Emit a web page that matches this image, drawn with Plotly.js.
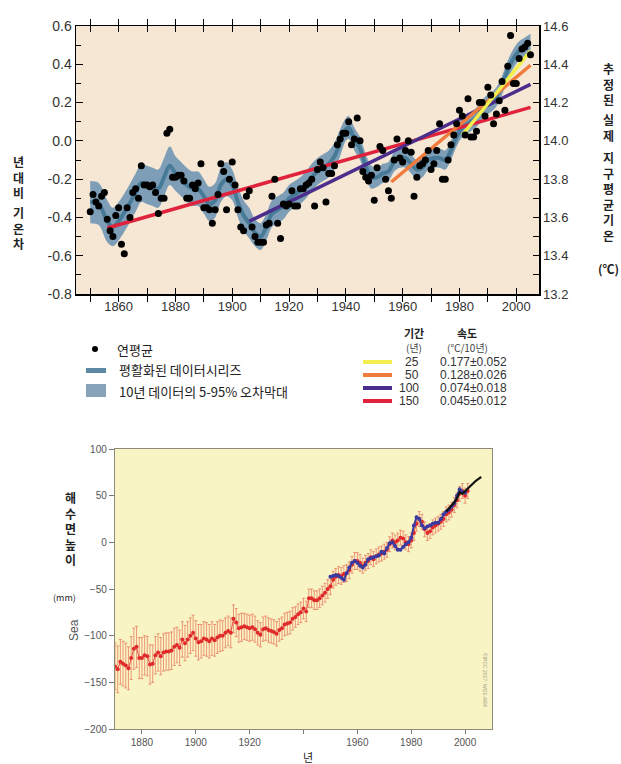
<!DOCTYPE html>
<html><head><meta charset="utf-8">
<script src="https://cdn.plot.ly/plotly-3.0.1.min.js"></script>
<style>html,body{margin:0;padding:0;background:#fff}#chart{width:621px;height:764px}</style>
</head><body><div id="chart"></div>
<script>
// ---------- Top panel: global temperature ----------
const tempYears = [
1850,1851,1852,1853,1854,1855,1856,1857,1858,1859,
1860,1861,1862,1863,1864,1865,1866,1867,1868,1869,
1870,1871,1872,1873,1874,1875,1876,1877,1878,1879,
1880,1881,1882,1883,1884,1885,1886,1887,1888,1889,
1890,1891,1892,1893,1894,1895,1896,1897,1898,1899,
1900,1901,1902,1903,1904,1905,1906,1907,1908,1909,
1910,1911,1912,1913,1914,1915,1916,1917,1918,1919,
1920,1921,1922,1923,1924,1925,1926,1927,1928,1929,
1930,1931,1932,1933,1934,1935,1936,1937,1938,1939,
1940,1941,1942,1943,1944,1945,1946,1947,1948,1949,
1950,1951,1952,1953,1954,1955,1956,1957,1958,1959,
1960,1961,1962,1963,1964,1965,1966,1967,1968,1969,
1970,1971,1972,1973,1974,1975,1976,1977,1978,1979,
1980,1981,1982,1983,1984,1985,1986,1987,1988,1989,
1990,1991,1992,1993,1994,1995,1996,1997,1998,1999,
2000,2001,2002,2003,2004,2005];
const tempAnom = [
-0.37,-0.28,-0.32,-0.34,-0.29,-0.27,-0.41,-0.47,-0.50,-0.39,
-0.35,-0.54,-0.59,-0.35,-0.40,-0.27,-0.25,-0.30,-0.13,-0.23,
-0.23,-0.24,-0.23,-0.27,-0.38,-0.30,-0.30,0.04,0.06,-0.19,
-0.19,-0.18,-0.18,-0.21,-0.30,-0.30,-0.23,-0.25,-0.22,-0.12,
-0.35,-0.35,-0.36,-0.43,-0.36,-0.28,-0.12,-0.16,-0.36,-0.20,
-0.11,-0.23,-0.36,-0.45,-0.47,-0.29,-0.26,-0.45,-0.50,-0.53,
-0.53,-0.53,-0.44,-0.43,-0.29,-0.20,-0.43,-0.51,-0.33,-0.34,
-0.33,-0.26,-0.34,-0.34,-0.25,-0.25,-0.23,-0.22,-0.20,-0.34,
-0.15,-0.11,-0.14,-0.32,-0.17,-0.17,-0.13,-0.02,0.01,0.04,
0.04,0.10,-0.02,0.01,0.12,0.00,-0.16,-0.19,-0.21,-0.18,
-0.31,-0.14,-0.03,-0.05,-0.20,-0.26,-0.30,-0.10,0.01,-0.09,
-0.11,-0.05,0.00,-0.06,-0.29,-0.19,-0.13,-0.12,-0.10,-0.05,
-0.15,-0.12,-0.05,0.09,-0.20,-0.20,-0.10,-0.02,0.03,0.09,
0.16,0.13,0.03,0.22,0.02,0.02,0.05,0.20,0.20,0.13,
0.28,0.24,0.09,0.14,0.21,0.31,0.16,0.39,0.55,0.30,
0.30,0.43,0.48,0.49,0.51,0.45];

const smoothYears = [1850,1853,1856,1858,1860,1863,1866,1868,1870,1872,1874,1876,1878,1880,1882,1884,1886,1888,1890,1892,1894,1896,1898,1900,1902,1904,1906,1908,1910,1912,1914,1916,1918,1920,1922,1924,1926,1928,1930,1932,1934,1936,1938,1940,1941,1943,1945,1947,1949,1951,1953,1955,1957,1959,1961,1963,1965,1967,1969,1971,1973,1975,1977,1979,1981,1983,1985,1987,1989,1991,1993,1995,1997,1999,2001,2003,2005];
const smoothVals  = [-0.32,-0.33,-0.42,-0.45,-0.42,-0.35,-0.27,-0.22,-0.23,-0.24,-0.25,-0.19,-0.13,-0.17,-0.20,-0.23,-0.25,-0.25,-0.29,-0.33,-0.31,-0.23,-0.20,-0.23,-0.32,-0.39,-0.43,-0.48,-0.50,-0.45,-0.38,-0.36,-0.34,-0.30,-0.28,-0.26,-0.23,-0.19,-0.16,-0.14,-0.12,-0.08,-0.01,0.06,0.07,0.01,-0.04,-0.13,-0.19,-0.19,-0.17,-0.16,-0.11,-0.09,-0.09,-0.12,-0.15,-0.14,-0.10,-0.09,-0.09,-0.10,-0.05,0.02,0.07,0.09,0.11,0.14,0.18,0.20,0.23,0.29,0.37,0.43,0.47,0.49,0.51];
const bandUpper   = [-0.21,-0.22,-0.31,-0.35,-0.32,-0.25,-0.17,-0.12,-0.13,-0.14,-0.15,-0.09,-0.03,-0.08,-0.11,-0.14,-0.16,-0.16,-0.20,-0.24,-0.22,-0.14,-0.11,-0.15,-0.24,-0.31,-0.35,-0.41,-0.43,-0.38,-0.31,-0.29,-0.27,-0.23,-0.21,-0.19,-0.16,-0.12,-0.09,-0.07,-0.05,-0.01,0.06,0.12,0.13,0.07,0.02,-0.07,-0.13,-0.14,-0.12,-0.11,-0.06,-0.04,-0.04,-0.07,-0.10,-0.09,-0.05,-0.04,-0.04,-0.05,0.00,0.07,0.12,0.14,0.16,0.19,0.23,0.25,0.28,0.34,0.42,0.48,0.52,0.54,0.56];
const bandLower   = [-0.43,-0.44,-0.53,-0.55,-0.52,-0.45,-0.37,-0.32,-0.33,-0.34,-0.35,-0.29,-0.23,-0.26,-0.29,-0.32,-0.34,-0.34,-0.38,-0.42,-0.40,-0.32,-0.29,-0.31,-0.40,-0.47,-0.51,-0.55,-0.57,-0.52,-0.45,-0.43,-0.41,-0.37,-0.35,-0.33,-0.30,-0.26,-0.23,-0.21,-0.19,-0.15,-0.08,0.00,0.01,-0.05,-0.10,-0.19,-0.25,-0.24,-0.22,-0.21,-0.16,-0.14,-0.14,-0.17,-0.20,-0.19,-0.15,-0.14,-0.14,-0.15,-0.10,-0.03,0.02,0.04,0.06,0.09,0.13,0.15,0.18,0.24,0.32,0.38,0.42,0.44,0.46];

// linear trends (period, rate, start/end)
const trendPeriods = ['25','50','100','150'];
const trendRates   = ['0.177±0.052','0.128±0.026','0.074±0.018','0.045±0.012'];
const trendColors  = ['#f2ee4e','#f07b3c','#4b2d8c','#e0223c'];
const trendX0 = [1981, 1956, 1906, 1856];
const trendX1 = [2005, 2005, 2005, 2005];
const trendY0 = [0.03, -0.215, -0.42, -0.455];
const trendY1 = [0.47, 0.395, 0.295, 0.175];

const leftTicks  = [-0.8,-0.6,-0.4,-0.2,0.0,0.2,0.4,0.6];
const leftLabels = ['-0.8','-0.6','-0.4','-0.2','0.0','0.2','0.4','0.6'];
const rightTicks = [13.2,13.3,13.4,13.5,13.6,13.7,13.8,13.9,14.0,14.1,14.2,14.3,14.4,14.5,14.6];
const rightLabels= ['13.2','','13.4','','13.6','','13.8','','14.0','','14.2','','14.4','','14.6'];
const topXTicks  = [1850,1860,1870,1880,1890,1900,1910,1920,1930,1940,1950,1960,1970,1980,1990,2000];
const topXLabels = ['','1860','','1880','','1900','','1920','','1940','','1960','','1980','','2000'];

// ---------- Bottom panel: sea level ----------
const redYears = [
1870,1871,1872,1873,1874,1875,1876,1877,1878,1879,
1880,1881,1882,1883,1884,1885,1886,1887,1888,1889,
1890,1891,1892,1893,1894,1895,1896,1897,1898,1899,
1900,1901,1902,1903,1904,1905,1906,1907,1908,1909,
1910,1911,1912,1913,1914,1915,1916,1917,1918,1919,
1920,1921,1922,1923,1924,1925,1926,1927,1928,1929,
1930,1931,1932,1933,1934,1935,1936,1937,1938,1939,
1940,1941,1942,1943,1944,1945,1946,1947,1948,1949,
1950,1951,1952,1953,1954,1955,1956,1957,1958,1959,
1960,1961,1962,1963,1964,1965,1966,1967,1968,1969,
1970,1971,1972,1973,1974,1975,1976,1977,1978,1979,
1980,1981,1982,1983,1984,1985,1986,1987,1988,1989,
1990,1991,1992,1993,1994,1995,1996,1997,1998,1999,
2000,2001];
const redLevel = [
-133,-136,-128,-130,-132,-135,-124,-114,-112,-124,
-124,-121,-122,-131,-130,-121,-118,-122,-118,-117,
-117,-116,-112,-110,-113,-104,-108,-104,-100,-97,
-103,-107,-106,-103,-104,-106,-103,-105,-102,-100,
-100,-97,-95,-97,-82,-86,-92,-91,-90,-91,
-92,-91,-93,-97,-99,-93,-92,-94,-95,-96,
-98,-94,-92,-88,-87,-86,-82,-80,-77,-75,
-71,-74,-60,-60,-62,-62,-60,-57,-54,-50,
-47,-40,-37,-35,-36,-34,-33,-30,-24,-20,
-20,-22,-25,-22,-20,-16,-18,-15,-13,-12,
-10,-8,-2,2,0,2,5,4,0,-2,
2,10,20,25,22,14,10,12,16,18,
20,22,25,30,32,35,40,45,52,55,
50,55];
const redErr = [
25,25,24,24,24,23,23,22,22,22,
22,21,21,21,20,20,20,20,20,20,
20,20,20,19,19,19,19,19,19,19,
19,19,18,18,18,18,18,17,17,17,
16,16,16,16,15,15,15,15,14,14,
14,14,14,13,13,13,13,13,13,13,
13,12,12,12,12,12,12,11,11,11,
11,11,10,10,10,10,10,10,10,10,
9,9,9,9,9,9,9,9,9,9,
9,9,8,8,8,8,8,8,8,8,
8,8,8,8,8,8,8,8,8,8,
8,8,8,8,8,8,8,8,8,8,
8,8,8,8,8,8,8,8,8,8,
8,8];
const blueYears = [1950,1951,1952,1953,1954,1955,1956,1957,1958,1959,1960,1961,1962,1963,1964,1965,1966,1967,1968,1969,1970,1971,1972,1973,1974,1975,1976,1977,1978,1979,1980,1981,1982,1983,1984,1985,1986,1987,1988,1989,1990,1991,1992,1993,1994,1995,1996,1997,1998,1999,2000];
const blueLevel = [-37,-36,-35,-36,-38,-40,-33,-27,-22,-20,-22,-25,-27,-24,-18,-17,-16,-15,-14,-10,-12,-6,-1,0,-4,-8,-8,-5,-2,0,5,18,27,25,18,15,17,18,20,21,21,25,30,33,35,38,42,50,57,54,53];
const satYears = [1993,1994,1995,1996,1997,1998,1999,2000,2001,2002,2003,2004,2005,2006];
const satLevel = [33,36,40,43,47,54,52,55,57,61,64,66,68,70];
const seaYTicks = [-200,-150,-100,-50,0,50,100];
const seaXTicks = [1880,1900,1920,1940,1960,1980,2000];
const seaXLabels = ['1880','1900','1920','','1960','1980','2000'];

// ---------- build ----------
const W = 621, H = 764;
const px = x => x / W, py = y => 1 - y / H;
const KR = '"Noto Sans CJK KR", "Noto Sans", sans-serif';
const AR = 'Arial, "Liberation Sans", sans-serif';

const traces = [];
traces.push({x: smoothYears, y: bandLower, type:'scatter', mode:'lines', line:{width:0, shape:'spline', color:'rgba(0,0,0,0)'}, hoverinfo:'skip', xaxis:'x', yaxis:'y'});
traces.push({x: smoothYears, y: bandUpper, type:'scatter', mode:'lines', fill:'tonexty', fillcolor:'rgba(112,150,178,0.9)', line:{width:0, shape:'spline', color:'rgba(0,0,0,0)'}, hoverinfo:'skip', xaxis:'x', yaxis:'y'});
traces.push({x: smoothYears, y: smoothVals, type:'scatter', mode:'lines', line:{width:4, shape:'spline', color:'#477a97'}, xaxis:'x', yaxis:'y'});
for (let i = 3; i >= 0; i--) {
  traces.push({x:[trendX0[i], trendX1[i]], y:[trendY0[i], trendY1[i]], type:'scatter', mode:'lines', line:{width:3.5, color: trendColors[i]}, xaxis:'x', yaxis:'y'});
}
traces.push({x: tempYears, y: tempAnom, type:'scatter', mode:'markers', marker:{size:7, color:'#000'}, xaxis:'x', yaxis:'y'});
traces.push({x:[1845], y:[14.0], type:'scatter', mode:'markers', marker:{opacity:0}, hoverinfo:'skip', xaxis:'x', yaxis:'y2'});

traces.push({x: redYears, y: redLevel, type:'scatter', mode:'lines+markers',
  line:{width:1, color:'#e8504a'}, marker:{size:4, color:'#e02a2a'},
  error_y:{type:'data', array: redErr, visible:true, color:'rgba(232,122,96,0.85)', thickness:0.9, width:1.5},
  xaxis:'x3', yaxis:'y3'});
traces.push({x: blueYears, y: blueLevel, type:'scatter', mode:'lines+markers', line:{width:2, color:'#3d3c9c'}, marker:{size:4, color:'#3a3aa0'}, xaxis:'x3', yaxis:'y3'});
traces.push({x: satYears, y: satLevel, type:'scatter', mode:'lines', line:{width:2.2, color:'#111'}, xaxis:'x3', yaxis:'y3'});

const shapes = [
  {type:'rect', xref:'x domain', yref:'y domain', x0:0, x1:1, y0:0, y1:1, fillcolor:'#f6e7d4', line:{width:0}, layer:'below'},
  {type:'rect', xref:'x3 domain', yref:'y3 domain', x0:0, x1:1, y0:0, y1:1, fillcolor:'#f8f4c3', line:{width:0}, layer:'below'},
  // legend swatches
  {type:'circle', xref:'paper', yref:'paper', x0:px(92), x1:px(98), y0:py(352), y1:py(346), fillcolor:'#000', line:{width:0}},
  {type:'rect', xref:'paper', yref:'paper', x0:px(86), x1:px(106), y0:py(373), y1:py(368), fillcolor:'#5e89a5', line:{width:0}},
  {type:'rect', xref:'paper', yref:'paper', x0:px(86), x1:px(106), y0:py(397), y1:py(384), fillcolor:'#86a3ba', line:{width:0}}
];
const rowY = [362, 375, 388, 401];
for (let i = 0; i < 4; i++) {
  shapes.push({type:'line', xref:'paper', yref:'paper', x0:px(363), x1:px(392), y0:py(rowY[i]), y1:py(rowY[i]), line:{color: trendColors[i], width:4}});
}

const ann = [];
function A(text, x, y, size, opts) {
  ann.push(Object.assign({text: text, x: px(x), y: py(y), xref:'paper', yref:'paper', showarrow:false,
    font:{family: KR, size: size, color:'#222'}, xanchor:'center', yanchor:'middle'}, opts || {}));
}
// top axis titles (vertical Korean)
A('<b>년<br>대<br>비</b>', 18, 177, 12);
A('<b>기<br>온<br>차</b>', 18, 228, 12);
A('<b>추<br>정<br>된</b>', 608, 84, 12);
A('<b>실<br>제</b>', 608, 128, 12);
A('<b>지<br>구<br>평<br>균<br>기<br>온</b>', 608, 196, 12);
A('<b>(℃)</b>', 608, 268, 12);
// left legend
A('연평균', 115, 350, 13, {xanchor:'left'});
A('평활화된 데이터시리즈', 117, 370, 13, {xanchor:'left'});
A('10년 데이터의 5-95% 오차막대', 117, 391, 13, {xanchor:'left'});
// right legend
A('<b>기간</b>', 414, 333, 11);
A('(년)', 414, 347, 10, {font:{family:KR, size:10, color:'#444'}});
A('<b>속도</b>', 467, 333, 11);
A('(℃/10년)', 467, 347, 10, {font:{family:KR, size:10, color:'#444'}});
for (let i = 0; i < 4; i++) {
  A(trendPeriods[i], 421, rowY[i], 12, {xanchor:'right', font:{family:AR, size:12, color:'#333'}});
  A(trendRates[i], 438, rowY[i], 12, {xanchor:'left', font:{family:AR, size:12, color:'#333'}});
}
// bottom titles
A('<b>해<br>수<br>면<br>높<br>이</b>', 70, 528, 12);
A('(mm)', 64, 597, 9);
A('Sea', 74, 630, 12, {textangle:-90, font:{family:AR, size:12, color:'#555'}});
A('년', 308, 757, 11);
A('©IPCC 2007: WG1-AR4', 485, 680, 5, {textangle:90, font:{family:AR, size:5, color:'#9a9a8a'}});

const layout = {
  width: W, height: H, margin:{l:0, r:0, t:0, b:0},
  paper_bgcolor:'#fff', plot_bgcolor:'rgba(0,0,0,0)', showlegend:false,
  xaxis: {domain:[px(76), px(539)], range:[1845, 2008], anchor:'y',
    tickmode:'array', tickvals: topXTicks, ticktext: topXLabels,
    ticks:'inside', ticklen:6, tickwidth:1, tickcolor:'#000', mirror:'allticks',
    showline:true, linecolor:'#000', linewidth:1.5, showgrid:false, zeroline:false,
    tickfont:{family:AR, size:13, color:'#333'}},
  yaxis: {domain:[py(294), py(26)], range:[-0.8, 0.6], anchor:'x',
    tickmode:'array', tickvals: leftTicks, ticktext: leftLabels,
    ticks:'inside', ticklen:7, tickwidth:1, tickcolor:'#000',
    minor:{tickvals:[-0.7,-0.5,-0.3,-0.1,0.1,0.3,0.5], ticks:'inside', ticklen:5, tickcolor:'#000', showgrid:false},
    showline:true, mirror:true, linecolor:'#000', linewidth:1.5, showgrid:false, zeroline:false,
    tickfont:{family:AR, size:14, color:'#333'}},
  yaxis2: {overlaying:'y', side:'right', anchor:'x', range:[13.2, 14.6],
    tickmode:'array', tickvals: rightTicks, ticktext: rightLabels,
    ticks:'inside', ticklen:6, tickwidth:1, tickcolor:'#000',
    showline:true, linecolor:'#000', linewidth:1.5, showgrid:false, zeroline:false,
    tickfont:{family:AR, size:13, color:'#333'}},
  xaxis3: {domain:[px(115), px(492)], range:[1870, 2010], anchor:'y3',
    tickmode:'array', tickvals: seaXTicks, ticktext: seaXLabels,
    ticks:'outside', ticklen:4, tickcolor:'#777', tickwidth:1,
    showline:true, mirror:true, linecolor:'#8c8a78', linewidth:1.2, showgrid:false, zeroline:false,
    tickfont:{family:AR, size:10, color:'#555'}},
  yaxis3: {domain:[py(729), py(449)], range:[-200, 100], anchor:'x3',
    tickmode:'array', tickvals: seaYTicks,
    ticks:'outside', ticklen:5, tickcolor:'#777', tickwidth:1,
    showline:true, mirror:true, linecolor:'#8c8a78', linewidth:1.2, showgrid:false, zeroline:false,
    tickfont:{family:AR, size:10, color:'#555'}},
  shapes: shapes, annotations: ann
};
Plotly.newPlot('chart', traces, layout, {staticPlot:true});
</script>
</body></html>
